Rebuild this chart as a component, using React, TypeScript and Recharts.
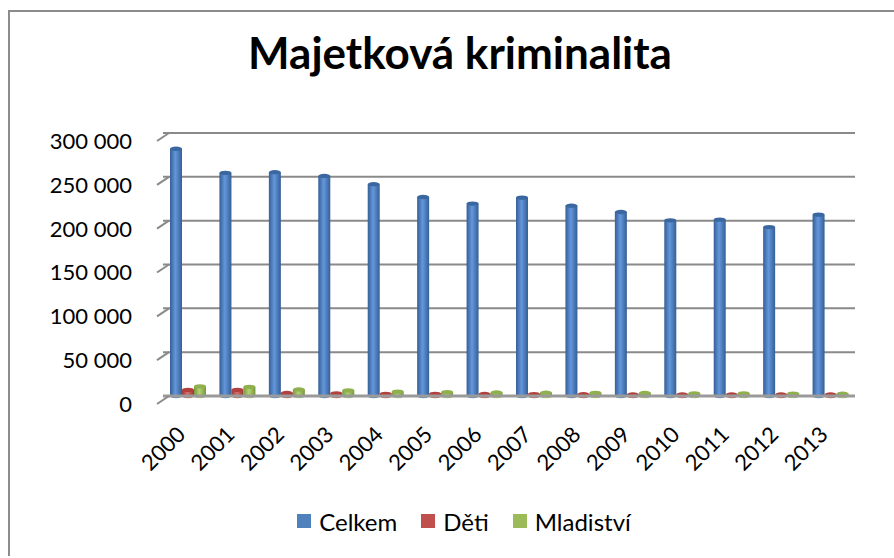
import React from 'react'
import { BarChart, Bar, XAxis, YAxis, CartesianGrid, Legend } from 'recharts'

const years = ['2000', '2001', '2002', '2003', '2004', '2005', '2006', '2007', '2008', '2009', '2010', '2011', '2012', '2013']
const celkem = [282000, 254500, 255300, 251000, 241600, 227000, 219500, 226300, 217100, 209900, 200400, 201200, 192700, 206900]
const deti = [7000, 7000, 3500, 3000, 2500, 2500, 2300, 2200, 2000, 1800, 1600, 1600, 1500, 1400]
const mladistvi = [11000, 10500, 7500, 6500, 5000, 4500, 4000, 3800, 3600, 3400, 3000, 3000, 2800, 2600]
const yTicks = [0, 50000, 100000, 150000, 200000, 250000, 300000]

const data = years.map((year, i) => ({
  year,
  celkem: celkem[i],
  deti: deti[i],
  mladistvi: mladistvi[i],
}))

const series = [
  { key: 'celkem', name: 'Celkem', color: '#4F81BD', grad: 'gBlue', light: '#6397dc', dark: '#355f96', top: '#3a679f' },
  { key: 'deti', name: 'Děti', color: '#C0504D', grad: 'gRed', light: '#d9706d', dark: '#963835', top: '#b2403d' },
  { key: 'mladistvi', name: 'Mladiství', color: '#9BBB59', grad: 'gGreen', light: '#b3d371', dark: '#78963d', top: '#8fb04c' },
]

const FONT = 'Lato, "Open Sans", sans-serif'
const AXIS_X = 163
const AXIS_Y = 396

const fmt = (n: number) => n.toString().replace(/\B(?=(\d{3})+(?!\d))/g, ' ')

const YTick = (props: any) => {
  const { y, payload } = props
  return (
    <g>
      <line x1={AXIS_X - 6} y1={y + 8} x2={AXIS_X + 6} y2={y} stroke="#8a8a8a" strokeWidth={2} />
      <text x={132} y={y + 8} dy="0.36em" textAnchor="end" fontSize={22} fontFamily={FONT} fill="#000">
        {fmt(payload.value)}
      </text>
    </g>
  )
}

const XTick = (props: any) => {
  const { x, payload } = props
  const tx = x - 1
  const ty = AXIS_Y + 40
  return (
    <text x={tx} y={ty} textAnchor="end" fontSize={22} fontFamily={FONT} fill="#000" transform={`rotate(-45, ${tx}, ${ty})`}>
      {payload.value}
    </text>
  )
}

const makeCylinder = (s: typeof series[number]) => (props: any) => {
  const { x, y, width, height } = props
  if (width == null || height == null) return null
  const h = Math.max(height, 1.5)
  const top = y + height - h
  const rx = width / 2
  const ry = Math.max(width * 0.18, 1.5)
  return (
    <g>
      <rect x={x} y={top} width={width} height={h} fill={`url(#${s.grad})`} />
      <ellipse cx={x + rx} cy={top + h} rx={rx} ry={ry} fill={`url(#${s.grad})`} />
      <ellipse cx={x + rx} cy={top} rx={rx} ry={ry} fill={s.top} />
    </g>
  )
}

const LegendContent = () => (
  <div style={{ display: 'flex', justifyContent: 'center', alignItems: 'center', gap: 24, fontFamily: FONT, fontSize: 24, height: 26 }}>
    {series.map(s => (
      <div key={s.key} style={{ display: 'flex', alignItems: 'center' }}>
        <span style={{ display: 'inline-block', width: 14, height: 14, background: s.color, marginRight: 8 }} />
        <span style={{ color: '#000' }}>{s.name}</span>
      </div>
    ))}
  </div>
)

export default function App() {
  return (
    <div
      style={{
        position: 'absolute',
        left: 8,
        top: 10,
        width: 886,
        height: 546,
        borderLeft: '2px solid #8c8c8c',
        borderTop: '2px solid #8c8c8c',
        boxSizing: 'border-box',
        background: '#fff',
      }}
    >
      <div
        style={{
          position: 'absolute',
          left: -10,
          top: 18,
          width: 920,
          textAlign: 'center',
          fontFamily: FONT,
          fontWeight: 700,
          fontSize: 44,
          lineHeight: 1,
          color: '#000',
        }}
      >
        Majetková kriminalita
      </div>
      <div style={{ position: 'absolute', left: -10, top: -12 }}>
        <BarChart
          width={894}
          height={558}
          data={data}
          margin={{ top: 133, right: 39, left: 0, bottom: 0 }}
          barSize={12}
          barGap={0}
        >
          <defs>
            {series.map(s => (
              <linearGradient key={s.grad} id={s.grad} x1="0" y1="0" x2="1" y2="0">
                <stop offset="0%" stopColor={s.dark} />
                <stop offset="45%" stopColor={s.light} />
                <stop offset="100%" stopColor={s.dark} />
              </linearGradient>
            ))}
          </defs>
          <CartesianGrid vertical={false} stroke="#8a8a8a" strokeWidth={2} />
          <XAxis
            dataKey="year"
            interval={0}
            height={136}
            tickLine={false}
            axisLine={{ stroke: '#9a9a9a', strokeWidth: 3 }}
            tick={<XTick />}
          />
          <YAxis
            width={163}
            domain={[0, 300000]}
            ticks={yTicks}
            axisLine={false}
            tickLine={false}
            tick={<YTick />}
          />
          <Legend
            verticalAlign="bottom"
            content={<LegendContent />}
            wrapperStyle={{ left: 0, width: 928, top: 508, bottom: 'auto' }}
          />
          {series.map(s => (
            <Bar
              key={s.key}
              dataKey={s.key}
              name={s.name}
              fill={s.color}
              isAnimationActive={false}
              shape={makeCylinder(s)}
            />
          ))}
        </BarChart>
      </div>
    </div>
  )
}
